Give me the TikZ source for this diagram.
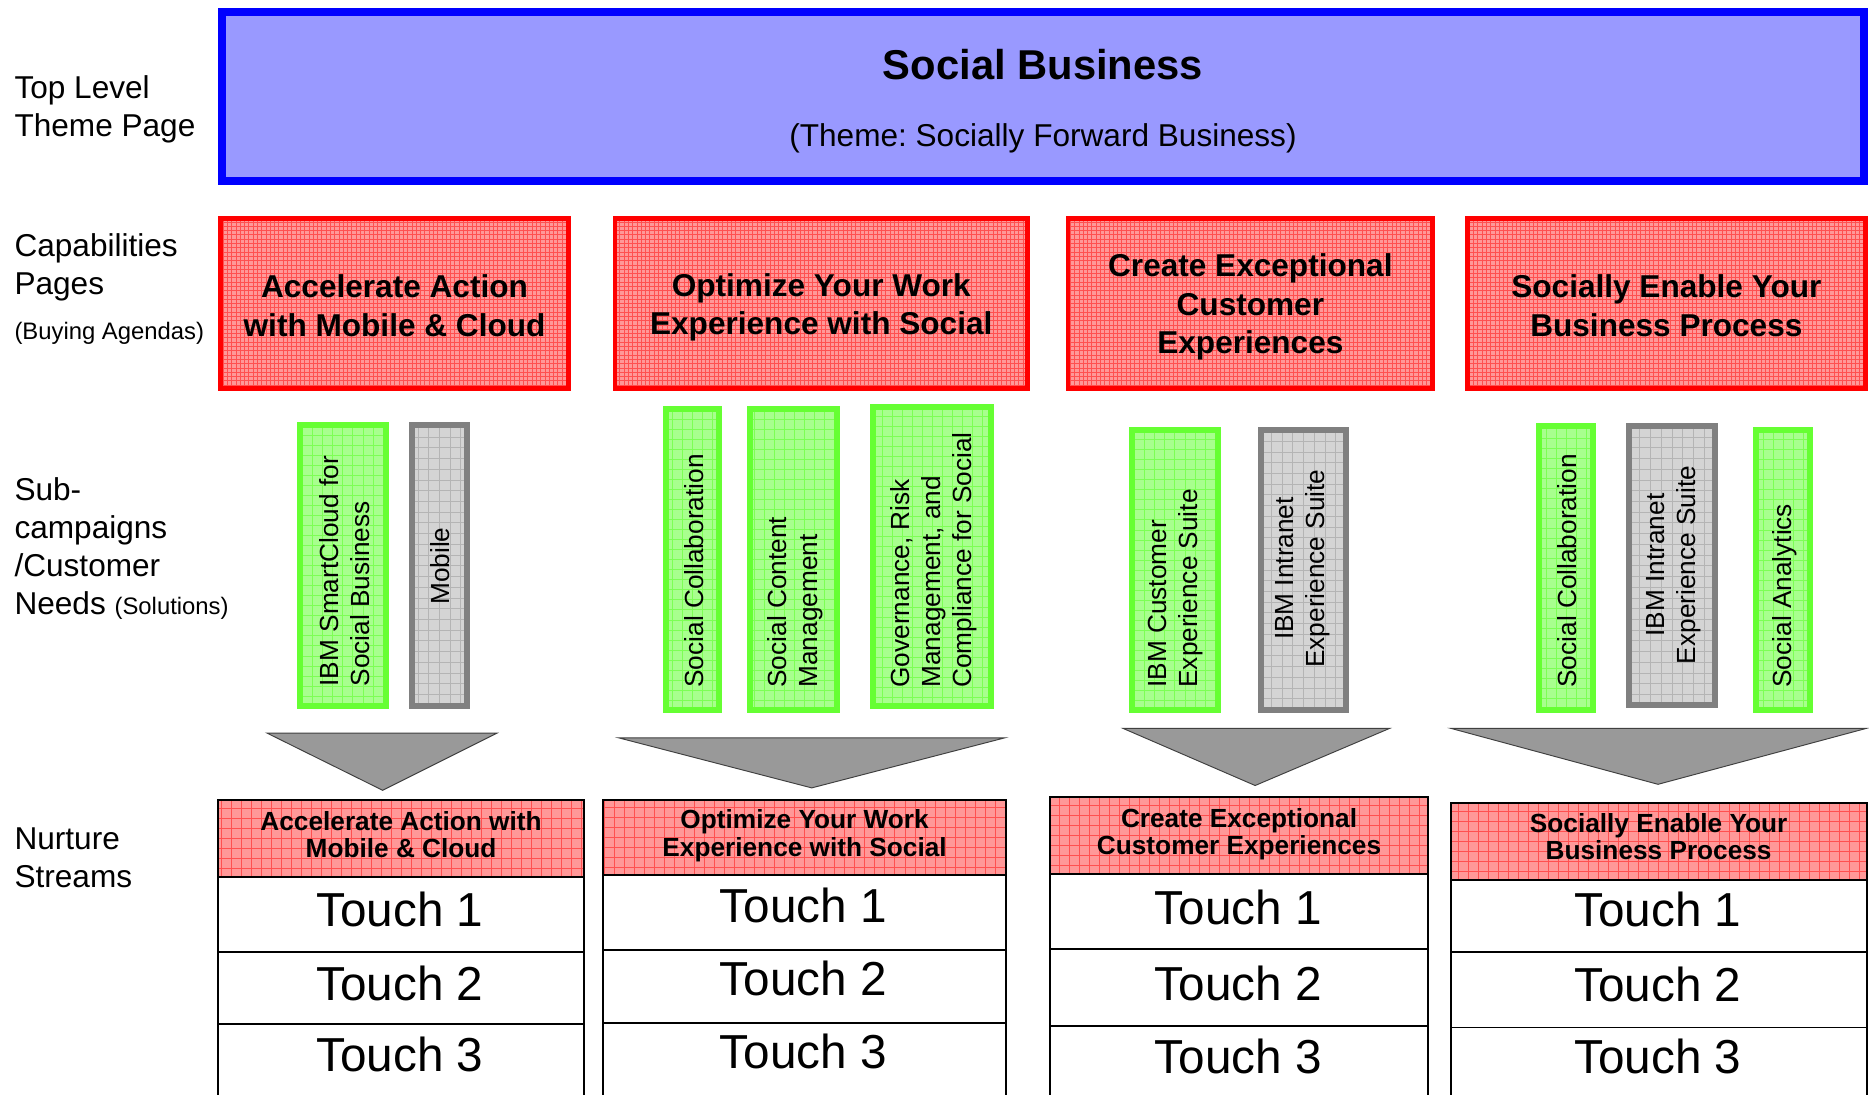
\documentclass[tikz,border=0pt]{standalone}
\usepackage{fontspec}
\setmainfont{Liberation Sans}
\frenchspacing
\definecolor{bluefill}{HTML}{9999FF}
\definecolor{redfill}{HTML}{FF9898}
\definecolor{redgrid}{HTML}{FF5050}
\definecolor{greenfill}{HTML}{A8FF8E}
\definecolor{greengrid}{HTML}{7DFF55}
\definecolor{grayfill}{HTML}{D4D4D4}
\definecolor{graygrid}{HTML}{B4B4B4}
\definecolor{greenline}{HTML}{66FF33}
\definecolor{grayline}{HTML}{808080}
\definecolor{trifill}{HTML}{999999}
\tikzset{
  gridfill/.style n args={3}{fill=#1, path picture={\draw[draw=#2, line width=0.35pt, step=#3] (path picture bounding box.south west) grid (path picture bounding box.north east);}},
  themebox/.style={draw=blue, fill=bluefill, line width=6.5pt, inner sep=0pt},
  capbox/.style={draw=red, line width=4pt, gridfill={redfill}{redgrid}{3.6pt}, inner sep=0pt},
  captext/.style={align=center, inner sep=0pt, font=\fontsize{26.5}{32}\selectfont\bfseries},
  gbox/.style={draw=greenline, line width=5pt, gridfill={greenfill}{greengrid}{8.4pt}, inner sep=0pt},
  ybox/.style={draw=grayline, line width=5pt, gridfill={grayfill}{graygrid}{9pt}, inner sep=0pt},
  vtext/.style={rotate=90, anchor=west, align=left, font=\fontsize{22}{26}\selectfont, inner sep=0pt},
  vtextc/.style={vtext, anchor=center, align=center},
  tri/.style={fill=trifill, draw=black!75, line width=0.8pt, line join=miter},
  hdr/.style={draw=black, line width=1.6pt, gridfill={redfill}{redgrid}{8.4pt}, inner sep=0pt},
  rowbox/.style={draw=black, line width=1.6pt, fill=white, inner sep=0pt},
  hdrtext/.style={font=\fontsize{22}{23}\selectfont\bfseries, align=center, inner sep=0pt},
  touch/.style={font=\fontsize{40}{44}\selectfont, inner sep=0pt},
  lbl/.style={font=\fontsize{26.5}{32}\selectfont, align=left, anchor=west, inner sep=0pt},
}
\begin{document}
\begin{tikzpicture}[x=1pt, y=-1pt]
\useasboundingbox (0,0) rectangle (1568,918);
\fill[white] (0,0) rectangle (1568,918);

% Left labels
\node[lbl] (l1) at (12,91.5) {Top Level\\Theme Page};
\node[lbl] (l2) at (12,224.5) {Capabilities\\Pages};
\node[lbl, font=\fontsize{20}{24}\selectfont] (l2b) at (12,280) {(Buying Agendas)};
\node[lbl] (l3) at (12,460) {Sub-\\campaigns\\/Customer\\Needs {\fontsize{20}{24}\selectfont (Solutions)}};
\node[lbl] (l4) at (12,719.5) {Nurture\\Streams};

% Theme
\node[themebox, minimum width=1377.5pt, minimum height=141.5pt] (theme) at (875,81) {};
\node[font=\fontsize{35}{40}\selectfont\bfseries, inner sep=0pt] (title) at (875,54) {Social Business};
\node[font=\fontsize{26.5}{30}\selectfont, inner sep=0pt] (sub) at (875,116) {(Theme: Socially Forward Business)};

% Capabilities
\node[capbox, minimum width=292pt, minimum height=143pt] (c1) at (331,254.5) {};
\node[capbox, minimum width=346pt, minimum height=143pt] (c2) at (689,254.5) {};
\node[capbox, minimum width=306pt, minimum height=143pt] (c3) at (1049,254.5) {};
\node[capbox, minimum width=334pt, minimum height=143pt] (c4) at (1398,254.5) {};
\node[captext] (c1t) at (331,256.5) {Accelerate Action\\with Mobile \& Cloud};
\node[captext] (c2t) at (689,258) {Optimize Your Work\\Experience with Social};
\node[captext] (c3t) at (1049,257.5) {Create Exceptional\\Customer\\Experiences};
\node[captext] (c4t) at (1398,256.5) {Socially Enable Your\\Business Process};

% Sub-campaign boxes
\node[gbox, minimum width=72pt, minimum height=236pt] (s11) at (287.5,474.5) {};
\node[ybox, minimum width=46pt, minimum height=236pt] (s12) at (368.5,474.5) {};
\node[gbox, minimum width=45pt, minimum height=252pt] (s21) at (581,469.5) {};
\node[gbox, minimum width=73pt, minimum height=252pt] (s22) at (666,469.5) {};
\node[gbox, minimum width=99pt, minimum height=251pt] (s23) at (782,467) {};
\node[gbox, minimum width=72pt, minimum height=235pt] (s31) at (985.5,478) {};
\node[ybox, minimum width=72pt, minimum height=235pt] (s32) at (1093.5,478) {};
\node[gbox, minimum width=45pt, minimum height=238pt] (s41) at (1314,476.5) {};
\node[ybox, minimum width=72pt, minimum height=234pt] (s42) at (1402.5,474.5) {};
\node[gbox, minimum width=45pt, minimum height=235pt] (s43) at (1496,478) {};

\node[vtext] (t11) at (289,576) {IBM SmartCloud for\\Social Business};
\node[vtextc] (t12) at (369,475) {Mobile};
\node[vtext] (t21) at (582,577) {Social Collaboration};
\node[vtext] (t22) at (667,577) {Social Content\\Management};
\node[vtext] (t23) at (783,577) {Governance, Risk\\Management, and\\Compliance for Social};
\node[vtext] (t31) at (986,577) {IBM Customer\\Experience Suite};
\node[vtextc] (t32) at (1093,477) {IBM Intranet\\Experience Suite};
\node[vtext] (t41) at (1315,577) {Social Collaboration};
\node[vtextc] (t42) at (1404,474) {IBM Intranet\\Experience Suite};
\node[vtext] (t43) at (1497,577) {Social Analytics};

% Funnel triangles
\draw[tri] (224,615) -- (417,615) -- (321,663) -- cycle;
\draw[tri] (519,619) -- (843,619) -- (681,661) -- cycle;
\draw[tri] (942,611) -- (1166,611) -- (1053,659) -- cycle;
\draw[tri] (1217,611) -- (1566,611) -- (1391,658) -- cycle;

% Nurture stream tables
% Table 1
\node[rowbox, minimum width=307pt, minimum height=63pt] (a1) at (336.5,767.5) {};
\node[rowbox, minimum width=307pt, minimum height=60pt] (a2) at (336.5,829) {};
\node[rowbox, minimum width=307pt, minimum height=80pt] (a3) at (336.5,899) {};
\node[hdr, minimum width=307pt, minimum height=65pt] (ah) at (336.5,703.5) {};
\node[hdrtext] (aht) at (336.5,700) {Accelerate Action with\\Mobile \& Cloud};
\node[touch] (at1) at (335.5,763) {Touch 1};
\node[touch] (at2) at (335.5,825) {Touch 2};
\node[touch] (at3) at (335.5,885) {Touch 3};
% Table 2
\node[rowbox, minimum width=338pt, minimum height=63pt] (b1) at (675,765.5) {};
\node[rowbox, minimum width=338pt, minimum height=61pt] (b2) at (675,827.5) {};
\node[rowbox, minimum width=338pt, minimum height=80pt] (b3) at (675,898) {};
\node[hdr, minimum width=338pt, minimum height=63pt] (bh) at (675,702.5) {};
\node[hdrtext] (bht) at (675,701) {Optimize Your Work\\Experience with Social};
\node[touch] (bt1) at (674,760) {Touch 1};
\node[touch] (bt2) at (674,821) {Touch 2};
\node[touch] (bt3) at (674,882) {Touch 3};
% Table 3
\node[rowbox, minimum width=317pt, minimum height=63pt] (d1) at (1039.5,764.5) {};
\node[rowbox, minimum width=317pt, minimum height=65pt] (d2) at (1039.5,828.5) {};
\node[rowbox, minimum width=317pt, minimum height=80pt] (d3) at (1039.5,901) {};
\node[hdr, minimum width=317pt, minimum height=64pt] (dh) at (1039.5,701) {};
\node[hdrtext] (dht) at (1039.5,700) {Create Exceptional\\Customer Experiences};
\node[touch] (dt1) at (1039,761) {Touch 1};
\node[touch] (dt2) at (1039,825) {Touch 2};
\node[touch] (dt3) at (1039,886) {Touch 3};
% Table 4
\node[rowbox, minimum width=349pt, minimum height=61pt] (e1) at (1391.5,768.5) {};
\node[rowbox, minimum width=349pt, minimum height=63pt] (e2) at (1391.5,830.5) {};
\node[rowbox, minimum width=349pt, minimum height=80pt] (e3) at (1391.5,902) {};
\node[hdr, minimum width=349pt, minimum height=64pt] (eh) at (1391.5,706) {};
\node[hdrtext] (eht) at (1391.5,702) {Socially Enable Your\\Business Process};
\node[touch] (et1) at (1391,763) {Touch 1};
\node[touch] (et2) at (1391,826) {Touch 2};
\node[touch] (et3) at (1391,886) {Touch 3};
\end{tikzpicture}
\end{document}
